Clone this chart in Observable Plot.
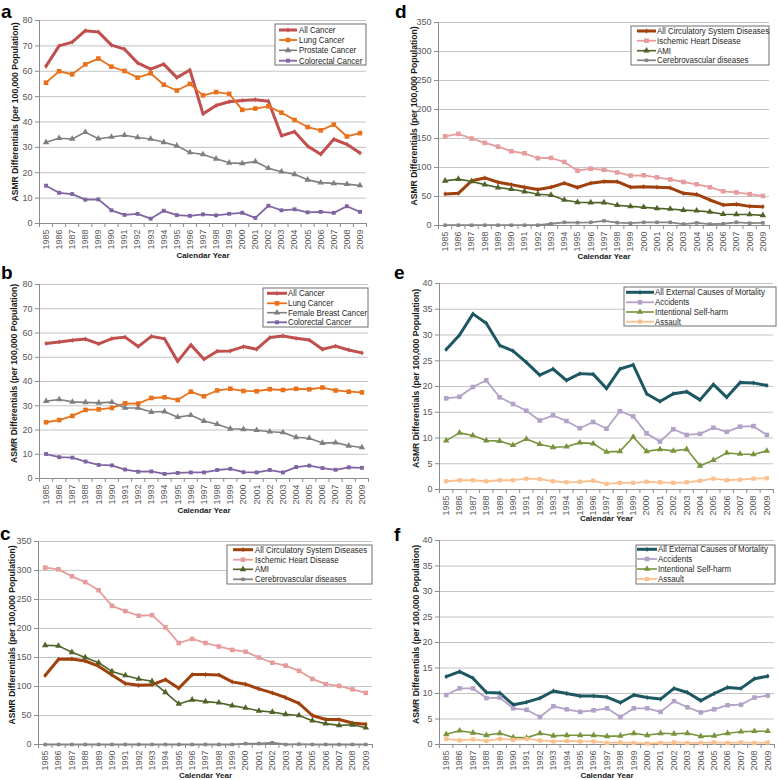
<!DOCTYPE html>
<html><head><meta charset="utf-8">
<script src="https://cdn.jsdelivr.net/npm/d3@7"></script>
<script src="https://cdn.jsdelivr.net/npm/@observablehq/plot@0.6"></script>
<style>
body{margin:0;background:#fff;}
#root{position:relative;width:778px;height:780px;overflow:hidden;background:#fff;}
.panel{position:absolute;}
.panel svg{overflow:visible;}
.letter{position:absolute;font:bold 19px "Liberation Sans",Arial,sans-serif;color:#000;line-height:1;}
</style></head>
<body><div id="root"></div>
<script>
const years = [1985,1986,1987,1988,1989,1990,1991,1992,1993,1994,1995,1996,1997,1998,1999,2000,2001,2002,2003,2004,2005,2006,2007,2008,2009];
const yTicksCancer = [0,10,20,30,40,50,60,70,80];
const yTicksCirc = [0,50,100,150,200,250,300,350];
const yTicksExt = [0,5,10,15,20,25,30,35,40];

// Panel a
const aAllCancer = [62,70,71.5,76,75.5,70.3,68.7,63.3,60.8,62.8,57.5,60.5,43.2,46.5,48,48.5,48.8,48.2,34.6,36.2,30.5,27.3,33.2,31.2,27.8];
const aLung = [55.5,60,58.8,62.7,65,61.8,60.1,57.5,59.2,54.7,52.4,55,50.5,51.8,51.1,44.8,45.3,46.2,43.7,40.8,38,36.7,39,34.3,35.6];
const aProstate = [32,33.6,33.3,36,33.4,34.1,34.8,33.9,33.3,32,30.6,28,27.2,25.5,23.9,23.7,24.4,21.8,20.4,19.4,17.2,16.1,15.8,15.5,15];
const aColorectal = [14.9,12.1,11.6,9.4,9.5,5.2,3.4,3.8,1.9,5,3.3,3,3.6,3.2,3.8,4.2,2.2,7,5.2,5.6,4.4,4.6,4.2,6.8,4.6];
// Panel b
const bAllCancer = [55.7,56.3,57,57.5,55.5,57.7,58.3,54.4,58.6,57.6,48.3,55.1,49.2,52.5,52.6,54.4,53.3,58.1,58.8,57.8,57.1,53.3,54.6,53,51.8];
const bLung = [23.2,24.1,25.8,28.3,28.5,29.1,31,30.9,33.2,33.5,32.4,35.8,33.9,36.3,37,36.1,36,36.8,36.5,37,36.8,37.5,36.3,35.8,35.5];
const bBreast = [31.9,32.6,31.6,31.4,31.2,31.5,29.1,29.1,27.4,27.6,25.3,26.1,23.7,22.4,20.5,20.3,19.9,19.3,19,17,16.6,14.6,14.8,13.5,12.8];
const bColorectal = [10.1,8.8,8.6,7,5.6,5.4,3.7,2.8,2.9,1.9,2.3,2.5,2.5,3.5,4,2.6,2.5,3.5,2.5,4.7,5.3,4.3,3.6,4.6,4.4];
// Panel c
const cAllCirc = [119,147,147.5,144,135,120,105,102,103,112,97,120.5,120.5,120,108,104,96,89,81,71,50,43,43,37,35];
const cIschemic = [305,302,290,280,266,239,230,222,223,202,175,182,175,169,163,160,150,141,136,127,113,104,101,95,89];
const cAMI = [171,170,159,150,141,126,119,113,109,90,70,77,74,72,67,63,58,56,52,50,41,36,33,34,29];
const cCerebro = [0,0,0,0,0,0,0,0,0,0,0,0,0,0,0,1.5,1.5,3,0,0.5,0,0,0,0,0];
// Panel d
const dAllCirc = [54.5,55.5,77,82,74.5,70.5,66,62,66,73,65.5,73,76,75.5,66,67,66,65,55.5,53.5,44,35.5,36.5,33,32.5];
const dIschemic = [153.8,158,150,142.5,136,128,124.5,116,116.5,109.5,94.5,98,96,91.5,86,86.5,83,79.5,75,71,66,59,57,54,51];
const dAMI = [77,80,76,70.5,65.5,62.5,58.5,54,52.5,44,40,39.5,39.5,35,33,31.5,29.5,28.5,26.5,25.5,23.5,19.5,19,19,17.5];
const dCerebro = [0.5,0.5,0.5,0.5,0.5,0.5,0.5,0.5,3,5.5,5,5.5,8,5,4,5.5,5.5,5.5,2.5,4.5,2.5,3,5.5,4,4.5];
// Panel e
const eAllExt = [27.2,30,34.1,32.3,28,26.9,24.7,22.2,23.4,21.2,22.5,22.4,19.6,23.4,24.2,18.6,17.1,18.6,19,17.4,20.4,17.9,20.8,20.7,20.2];
const eAccidents = [17.7,18,19.9,21.2,17.9,16.6,15.3,13.4,14.4,13.3,11.9,13.1,11.8,15.2,14.2,10.9,9.3,11.7,10.6,10.8,12,11.2,12.2,12.3,10.6];
const eSelfHarm = [9.5,11,10.5,9.5,9.4,8.6,9.8,8.8,8.2,8.3,9.1,8.9,7.3,7.4,10.2,7.4,7.8,7.5,7.8,4.6,5.7,7.1,6.9,6.8,7.5];
const eAssault = [1.6,1.8,1.8,1.6,1.8,1.8,2.1,2,1.6,1.4,1.5,1.7,1.1,1.3,1.3,1.5,1.4,1.3,1.4,1.7,2.1,1.8,1.9,2.1,2.2];
// Panel f
const fAllExt = [13.3,14.3,13,10.2,10.1,7.8,8.3,9.1,10.5,10,9.5,9.5,9.3,8.2,9.7,9.2,8.9,11,10.2,8.6,10,11.2,11,12.9,13.4];
const fAccidents = [9.7,11,11,9.1,9.2,7.1,6.8,5.4,7.5,6.9,6.4,6.7,7.1,5.4,7.1,7.1,6.4,8.5,7.3,6.3,6.9,7.7,7.8,9.2,9.6];
const fSelfHarm = [2,2.7,2.3,1.8,2.2,1.4,1.3,2.2,1.7,1.8,1.8,1.8,1.6,1.7,2.2,1.8,2.2,2.1,2.2,1.6,1.7,2.2,2.5,2.6,2.6];
const fAssault = [1.1,0.8,1,0.7,1.1,0.9,1.1,0.8,0.6,0.7,0.6,0.6,0.3,0.4,0.3,0.2,0.3,0.4,0.3,0.3,0.4,0.3,0.4,0.3,0.4];

const cancerNamesA = ["All Cancer","Lung Cancer","Prostate Cancer","Colorectal Cancer"];
const cancerNamesB = ["All Cancer","Lung Cancer","Female Breast Cancer","Colorectal Cancer"];
const circNames = ["All Circulatory System Diseases","Ischemic Heart Disease","AMI","Cerebrovascular diseases"];
const extNames = ["All External Causes of Mortality","Accidents","Intentional Self-harm","Assault"];

const FONT = '"Liberation Sans",Arial,sans-serif';

const styleCancer = [
  {color:"#C0504D", w:3, sym:"diamond", r:1.6},
  {color:"#E8711A", w:1.8, sym:"square", r:2.6},
  {color:"#7F7F7F", w:1.6, sym:"triangle", r:2.4},
  {color:"#8064A2", w:1.8, sym:"square", r:2.2}
];
const styleCirc = [
  {color:"#A0410D", w:3, sym:"diamond", r:1.6},
  {color:"#E59C9C", w:1.8, sym:"square", r:2.6},
  {color:"#4F6228", w:1.6, sym:"triangle", r:2.4},
  {color:"#858585", w:1.8, sym:"square", r:2.0}
];
const styleExt = [
  {color:"#1D5862", w:3, sym:"diamond", r:1.6},
  {color:"#B3A2C7", w:1.8, sym:"square", r:2.6},
  {color:"#77933C", w:1.6, sym:"triangle", r:2.4},
  {color:"#FAC090", w:1.8, sym:"square", r:2.4}
];

const panels = [
  {letter:"a", lx:1, ly:2, left:0, top:0, mt:20, mb:39, ml:39, mr:23, ymax:80, yticks:yTicksCancer,
   series:[aAllCancer,aLung,aProstate,aColorectal], names:cancerNamesA, styles:styleCancer, ydx:-24, ydy:-10, xdy:32,
   leg:{x0:275,x1:366,y0:24,y1:65,rows:[30,40,50.3,60.7],s0:279,s1:297,t:299}},
  {letter:"b", lx:1, ly:263, left:0, top:258, mt:26, mb:42, ml:39, mr:21, ymax:80, yticks:yTicksCancer,
   series:[bAllCancer,bLung,bBreast,bColorectal], names:cancerNamesB, styles:styleCancer, ydx:-25, ydy:-8, xdy:32,
   leg:{x0:263,x1:368,y0:30,y1:69,rows:[35.3,45.3,54.7,64.3],s0:267,s1:287,t:288}},
  {letter:"c", lx:0, ly:524, left:0, top:518, mt:23, mb:36, ml:38, mr:17, ymax:350, yticks:yTicksCirc,
   series:[cAllCirc,cIschemic,cAMI,cCerebro], names:circNames, styles:styleCirc, ydx:-26, ydy:-8, xdy:31,
   leg:{x0:227,x1:372,y0:27,y1:66,rows:[31.7,41.7,51.3,61.3],s0:233,s1:253,t:255}},
  {letter:"d", lx:395, ly:2, left:389, top:0, mt:22, mb:37, ml:49, mr:9, ymax:350, yticks:yTicksCirc,
   series:[dAllCirc,dIschemic,dAMI,dCerebro], names:circNames, styles:styleCirc, ydx:-24, ydy:-8, xdy:31,
   leg:{x0:242,x1:380,y0:26,y1:65,rows:[31,40.7,50.7,60.3],s0:248,s1:267,t:268}},
  {letter:"e", lx:394, ly:263, left:389, top:258, mt:25, mb:31, ml:50, mr:5, ymax:40, yticks:yTicksExt,
   series:[eAllExt,eAccidents,eSelfHarm,eAssault], names:extNames, styles:styleExt, ydx:-23, ydy:-8, xdy:29,
   leg:{x0:235,x1:387,y0:29,y1:68,rows:[34.3,44.3,54,63.7],s0:237,s1:265,t:266}},
  {letter:"f", lx:394, ly:525, left:389, top:518, mt:22, mb:36, ml:50, mr:4, ymax:40, yticks:yTicksExt,
   series:[fAllExt,fAccidents,fSelfHarm,fAssault], names:extNames, styles:styleExt, ydx:-23, ydy:-8, xdy:31,
   leg:{x0:247,x1:386,y0:27,y1:66,rows:[31.3,41,51,61],s0:248,s1:268,t:269}}
];

const boundaries = years.map(y => y - 0.5).concat([years[years.length-1] + 0.5]);
const root = document.getElementById("root");

for (const p of panels) {
  const W = 389, H = 262;
  const marks = [
    Plot.gridY(p.yticks.slice(1), {stroke:"#C4C4C4", strokeOpacity:1, strokeWidth:1}),
    Plot.ruleY([0], {stroke:"#8C8C8C"}),
    Plot.ruleX([boundaries[0]], {stroke:"#8C8C8C"}),
    Plot.axisY(p.yticks, {tickSize:4, tickPadding:3, label:null, stroke:"#8C8C8C", fill:"#595959"}),
    Plot.axisX(boundaries, {tickSize:4, tickFormat:()=>"", label:null, stroke:"#8C8C8C"}),
    Plot.axisX(years, {tickSize:0, tickPadding:6, tickRotate:-90, label:null, tickFormat:d=>String(d), fill:"#595959"})
  ];
  p.series.forEach((vals, i) => {
    const st = p.styles[i];
    const data = years.map((yr, k) => ({year: yr, value: vals[k]}));
    marks.push(Plot.line(data, {x:"year", y:"value", stroke:st.color, strokeWidth:st.w, strokeLinejoin:"round"}));
    marks.push(Plot.dot(data, {x:"year", y:"value", symbol:st.sym, r:st.r, fill:st.color, stroke:"none"}));
  });
  marks.push(Plot.text(["ASMR Differentials (per 100,000 Population)"], {frameAnchor:"left", textAnchor:"middle", lineAnchor:"middle", rotate:-90, dx:p.ydx, dy:p.ydy, fontWeight:"bold", fill:"#1a1a1a", fontSize:8.6}));
  marks.push(Plot.text(["Calendar Year"], {frameAnchor:"bottom", textAnchor:"middle", lineAnchor:"middle", dy:p.xdy, fontWeight:"bold", fill:"#1a1a1a", fontSize:8}));

  const svg = Plot.plot({
    width: W, height: H,
    marginTop: p.mt, marginBottom: p.mb, marginLeft: p.ml, marginRight: p.mr,
    style: {fontFamily: FONT, fontSize: "9px", color: "#595959", background: "transparent", overflow: "visible"},
    x: {type:"linear", domain:[boundaries[0], boundaries[boundaries.length-1]]},
    y: {domain:[0, p.ymax]},
    marks
  });

  // legend box
  const L = p.leg;
  const g = d3.select(svg).append("g").attr("font-family", FONT).attr("font-size", 9).attr("text-anchor", "start");
  g.append("rect").attr("x", L.x0).attr("y", L.y0).attr("width", L.x1 - L.x0).attr("height", L.y1 - L.y0)
    .attr("fill", "white").attr("stroke", "#6E6E6E").attr("stroke-width", 1);
  p.names.forEach((name, i) => {
    const st = p.styles[i], y = L.rows[i];
    g.append("line").attr("x1", L.s0).attr("x2", L.s1).attr("y1", y).attr("y2", y)
      .attr("stroke", st.color).attr("stroke-width", st.w);
    const symType = st.sym === "square" ? d3.symbolSquare : st.sym === "triangle" ? d3.symbolTriangle : d3.symbolDiamond;
    g.append("path").attr("d", d3.symbol(symType, Math.PI * st.r * st.r)())
      .attr("transform", `translate(${(L.s0 + L.s1) / 2},${y})`).attr("fill", st.color);
    g.append("text").attr("transform", `translate(${L.t},${y}) scale(0.88,1)`).attr("dy", "0.35em")
      .attr("text-anchor", "start").attr("fill", "#262626").text(name);
  });

  const div = document.createElement("div");
  div.className = "panel";
  div.style.left = p.left + "px";
  div.style.top = p.top + "px";
  div.appendChild(svg);
  root.appendChild(div);

  const lt = document.createElement("div");
  lt.className = "letter";
  lt.style.left = p.lx + "px";
  lt.style.top = p.ly + "px";
  lt.textContent = p.letter;
  root.appendChild(lt);
}
</script>
</body></html>
